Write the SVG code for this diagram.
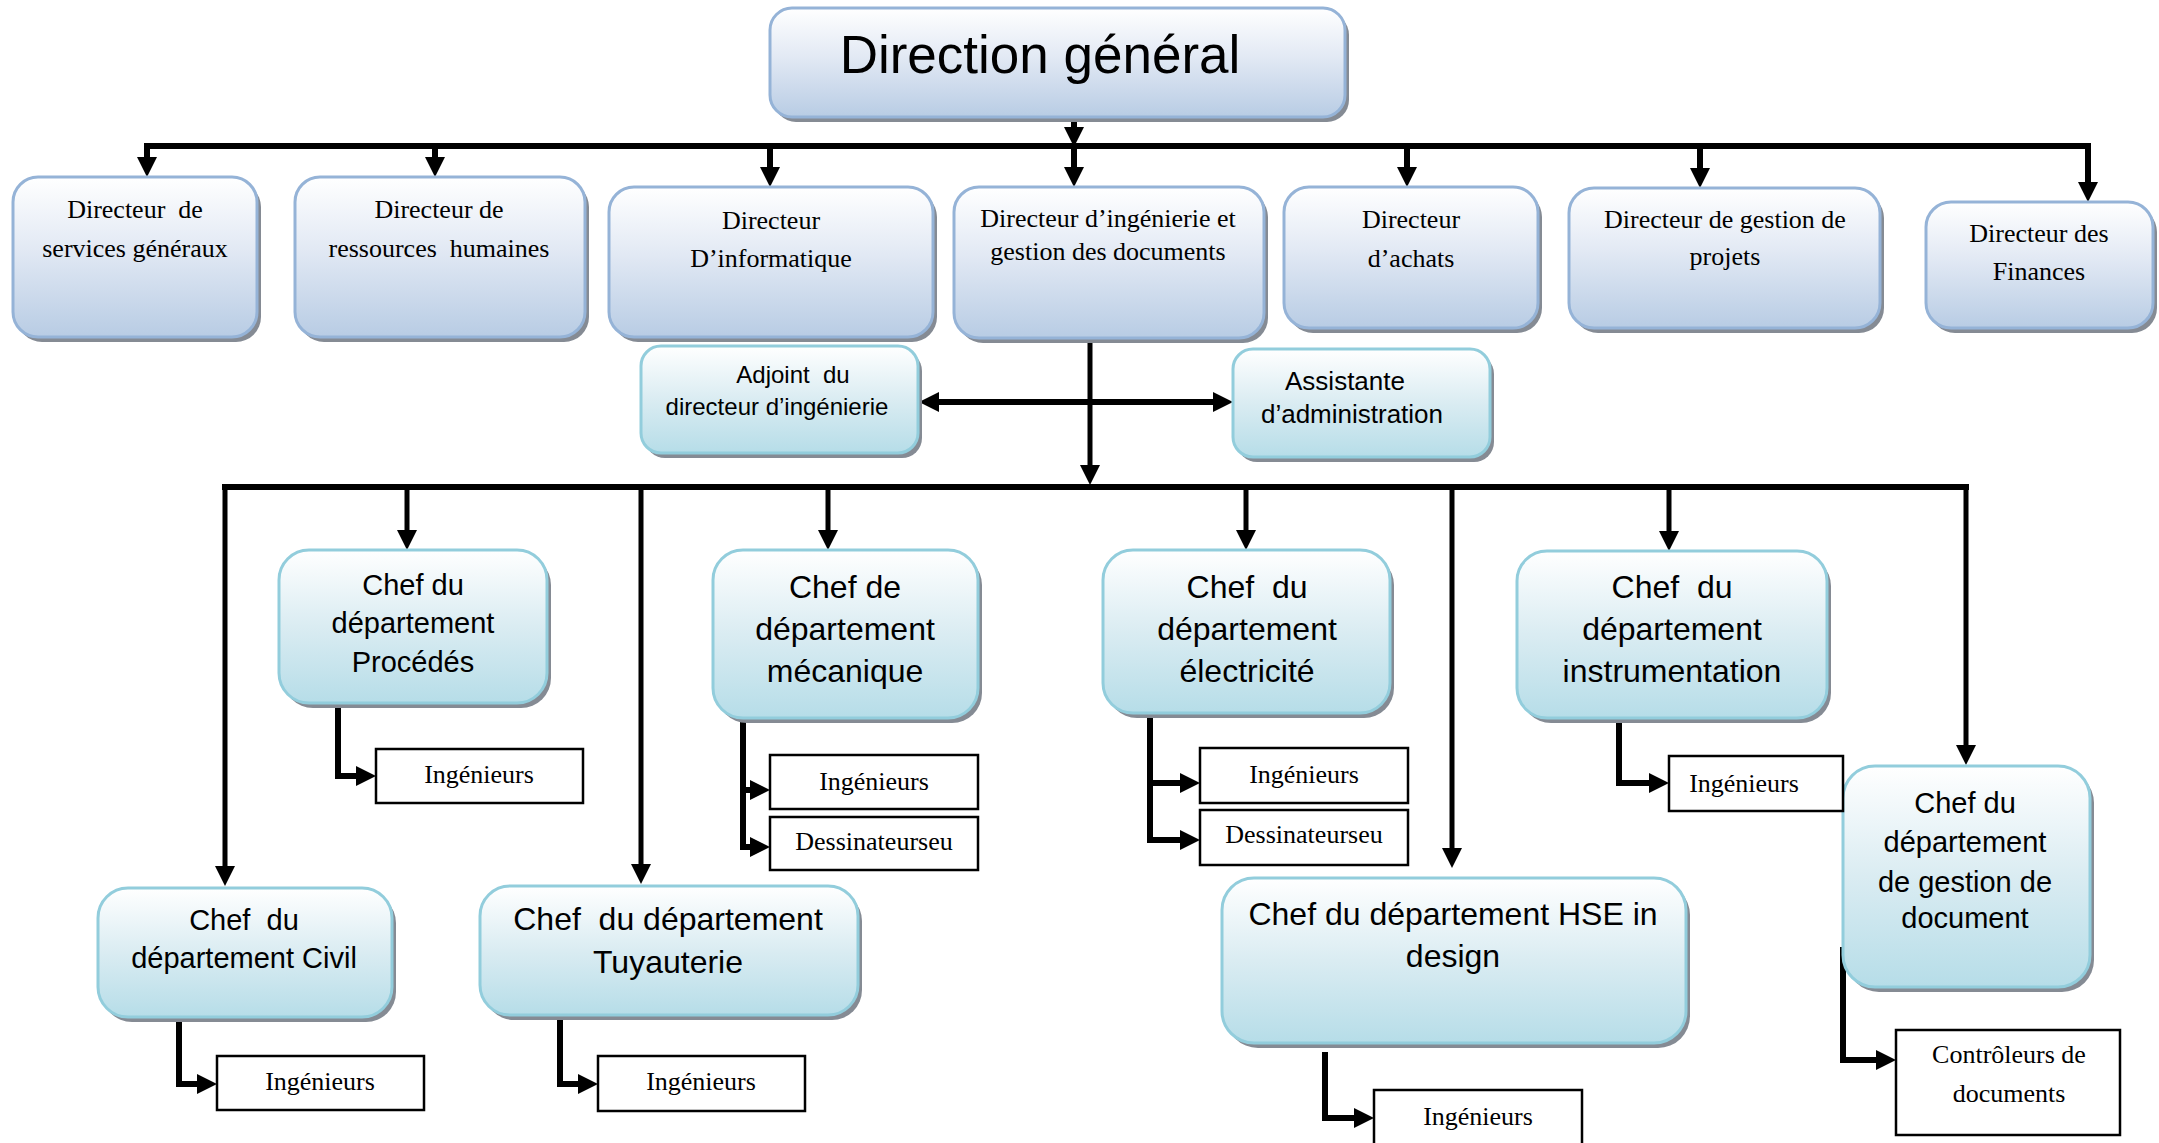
<svg xmlns="http://www.w3.org/2000/svg" width="2159" height="1143" viewBox="0 0 2159 1143">
<defs>
<linearGradient id="gBlue" x1="0" y1="0" x2="0" y2="1">
<stop offset="0" stop-color="#ffffff"/>
<stop offset="0.45" stop-color="#e2e9f4"/>
<stop offset="1" stop-color="#b8cce4"/>
</linearGradient>
<linearGradient id="gCyan" x1="0" y1="0" x2="0" y2="1">
<stop offset="0" stop-color="#ffffff"/>
<stop offset="0.5" stop-color="#daecf2"/>
<stop offset="1" stop-color="#b6dde8"/>
</linearGradient>
<marker id="arr" viewBox="0 -10 20 20" refX="0" refY="0" markerWidth="20" markerHeight="20" markerUnits="userSpaceOnUse" orient="auto-start-reverse">
<path d="M0,-10 L20,0 L0,10 z" fill="#000"/>
</marker>
</defs>
<style>
.sh{fill:#858b94}
.bb{fill:url(#gBlue);stroke:#95b3d7;stroke-width:3}
.cb{fill:url(#gCyan);stroke:#92cddc;stroke-width:3}
.wb{fill:#fff;stroke:#000;stroke-width:2.5}
.ser{font-family:"Liberation Serif","Times New Roman",serif;font-size:26px;fill:#000;text-anchor:middle;white-space:pre}
.san{font-family:"Liberation Sans",Arial,sans-serif;fill:#000;text-anchor:middle;white-space:pre}
.ln{fill:none;stroke:#000;stroke-width:6}
.ar{fill:none;stroke:#000;stroke-width:6;marker-end:url(#arr)}
.ar2{fill:none;stroke:#000;stroke-width:5;marker-end:url(#arr)}
</style>
<rect width="2159" height="1143" fill="#fff"/>

<g id="connectors">
<line class="ar" x1="1074" y1="117" x2="1074" y2="127"/>
<line class="ln" x1="144" y1="146" x2="2091" y2="146"/>
<line class="ar" x1="147" y1="146" x2="147" y2="157"/>
<line class="ar" x1="435" y1="146" x2="435" y2="157"/>
<line class="ar" x1="770" y1="146" x2="770" y2="167"/>
<line class="ar" x1="1074" y1="146" x2="1074" y2="167"/>
<line class="ar" x1="1407" y1="146" x2="1407" y2="167"/>
<line class="ar" x1="1700" y1="146" x2="1700" y2="168"/>
<line class="ar" x1="2088" y1="143" x2="2088" y2="182"/>
<line class="ar2" x1="1090" y1="338" x2="1090" y2="465"/>
<line class="ar" x1="939" y1="402" x2="1213" y2="402" style="marker-start:url(#arr)"/>
<line class="ln" x1="222" y1="487" x2="1969" y2="487"/>
<line class="ar2" x1="225" y1="484" x2="225" y2="866"/>
<line class="ar2" x1="407" y1="487" x2="407" y2="530"/>
<line class="ar2" x1="641" y1="487" x2="641" y2="864"/>
<line class="ar2" x1="828" y1="487" x2="828" y2="530"/>
<line class="ar2" x1="1246" y1="487" x2="1246" y2="530"/>
<line class="ar2" x1="1452" y1="487" x2="1452" y2="848"/>
<line class="ar2" x1="1669" y1="487" x2="1669" y2="531"/>
<line class="ar2" x1="1966" y1="484" x2="1966" y2="745"/>
<path class="ar" d="M338,703 V776 H356"/>
<path class="ln" d="M743,718 V850"/>
<path class="ar" d="M743,790 H750"/>
<path class="ar" d="M743,847 H750"/>
<path class="ln" d="M1150,713 V843"/>
<path class="ar" d="M1150,783 H1180"/>
<path class="ar" d="M1150,840 H1180"/>
<path class="ar" d="M1619,718 V783 H1649"/>
<path class="ar" d="M1843,947 V1060 H1876"/>
<path class="ar" d="M1325,1052 V1118 H1354"/>
<path class="ar" d="M179,1018 V1084 H197"/>
<path class="ar" d="M560,1018 V1084 H578"/>
</g>

<g id="n-direction">
<rect class="sh" x="774" y="13" width="575" height="109" rx="22"/>
<rect class="bb" x="770" y="8" width="575" height="109" rx="22"/>
<text class="san" x="1040" y="73" font-size="53">Direction général</text>
</g>

<g id="n-services">
<rect class="sh" x="17" y="182" width="244" height="160" rx="25"/>
<rect class="bb" x="13" y="177" width="244" height="160" rx="25"/>
<text class="ser" x="135" y="218">Directeur  de</text>
<text class="ser" x="135" y="257">services généraux</text>
</g>
<g id="n-rh">
<rect class="sh" x="299" y="182" width="290" height="160" rx="25"/>
<rect class="bb" x="295" y="177" width="290" height="160" rx="25"/>
<text class="ser" x="439" y="218">Directeur de</text>
<text class="ser" x="439" y="257">ressources  humaines</text>
</g>
<g id="n-info">
<rect class="sh" x="613" y="192" width="324" height="150" rx="25"/>
<rect class="bb" x="609" y="187" width="324" height="150" rx="25"/>
<text class="ser" x="771" y="229">Directeur</text>
<text class="ser" x="771" y="267">D’informatique</text>
</g>
<g id="n-inge">
<rect class="sh" x="958" y="192" width="310" height="151" rx="25"/>
<rect class="bb" x="954" y="187" width="310" height="151" rx="25"/>
<text class="ser" x="1108" y="227" font-size="23">Directeur d’ingénierie et</text>
<text class="ser" x="1108" y="260" font-size="23">gestion des documents</text>
</g>
<g id="n-achats">
<rect class="sh" x="1288" y="192" width="254" height="141" rx="25"/>
<rect class="bb" x="1284" y="187" width="254" height="141" rx="25"/>
<text class="ser" x="1411" y="228">Directeur</text>
<text class="ser" x="1411" y="267">d’achats</text>
</g>
<g id="n-projets">
<rect class="sh" x="1573" y="193" width="311" height="140" rx="25"/>
<rect class="bb" x="1569" y="188" width="311" height="140" rx="25"/>
<text class="ser" x="1725" y="228">Directeur de gestion de</text>
<text class="ser" x="1725" y="265">projets</text>
</g>
<g id="n-finances">
<rect class="sh" x="1930" y="207" width="227" height="126" rx="25"/>
<rect class="bb" x="1926" y="202" width="227" height="126" rx="25"/>
<text class="ser" x="2039" y="242">Directeur des</text>
<text class="ser" x="2039" y="280">Finances</text>
</g>

<g id="n-adjoint">
<rect class="sh" x="645" y="351" width="277" height="107" rx="20"/>
<rect class="cb" x="641" y="346" width="277" height="107" rx="20"/>
<text class="san" x="793" y="383" font-size="24">Adjoint  du</text>
<text class="san" x="777" y="415" font-size="24">directeur d’ingénierie</text>
</g>
<g id="n-assistante">
<rect class="sh" x="1237" y="354" width="257" height="108" rx="20"/>
<rect class="cb" x="1233" y="349" width="257" height="108" rx="20"/>
<text class="san" x="1345" y="390" font-size="26">Assistante</text>
<text class="san" x="1352" y="423" font-size="26">d’administration</text>
</g>

<g id="n-procedes">
<rect class="sh" x="283" y="555" width="268" height="153" rx="30"/>
<rect class="cb" x="279" y="550" width="268" height="153" rx="30"/>
<text class="san" x="413" y="595" font-size="29">Chef du</text>
<text class="san" x="413" y="633" font-size="29">département</text>
<text class="san" x="413" y="672" font-size="29">Procédés</text>
</g>
<g id="n-mecanique">
<rect class="sh" x="717" y="555" width="265" height="168" rx="30"/>
<rect class="cb" x="713" y="550" width="265" height="168" rx="30"/>
<text class="san" x="845" y="598" font-size="32">Chef de</text>
<text class="san" x="845" y="640" font-size="32">département</text>
<text class="san" x="845" y="682" font-size="32">mécanique</text>
</g>
<g id="n-electricite">
<rect class="sh" x="1107" y="555" width="287" height="163" rx="30"/>
<rect class="cb" x="1103" y="550" width="287" height="163" rx="30"/>
<text class="san" x="1247" y="598" font-size="32">Chef  du</text>
<text class="san" x="1247" y="640" font-size="32">département</text>
<text class="san" x="1247" y="682" font-size="32">électricité</text>
</g>
<g id="n-instrumentation">
<rect class="sh" x="1521" y="556" width="310" height="167" rx="30"/>
<rect class="cb" x="1517" y="551" width="310" height="167" rx="30"/>
<text class="san" x="1672" y="598" font-size="32">Chef  du</text>
<text class="san" x="1672" y="640" font-size="32">département</text>
<text class="san" x="1672" y="682" font-size="32">instrumentation</text>
</g>
<g id="n-civil">
<rect class="sh" x="102" y="893" width="294" height="129" rx="30"/>
<rect class="cb" x="98" y="888" width="294" height="129" rx="30"/>
<text class="san" x="244" y="930" font-size="29">Chef  du</text>
<text class="san" x="244" y="968" font-size="29">département Civil</text>
</g>
<g id="n-tuyauterie">
<rect class="sh" x="484" y="891" width="378" height="129" rx="30"/>
<rect class="cb" x="480" y="886" width="378" height="129" rx="30"/>
<text class="san" x="668" y="930" font-size="32">Chef  du département</text>
<text class="san" x="668" y="973" font-size="32">Tuyauterie</text>
</g>
<g id="n-hse">
<rect class="sh" x="1226" y="883" width="464" height="165" rx="32"/>
<rect class="cb" x="1222" y="878" width="464" height="165" rx="32"/>
<text class="san" x="1453" y="925" font-size="32">Chef du département HSE in</text>
<text class="san" x="1453" y="967" font-size="32">design</text>
</g>
<g id="n-gestion">
<rect class="sh" x="1847" y="771" width="247" height="221" rx="32"/>
<rect class="cb" x="1843" y="766" width="247" height="221" rx="32"/>
<text class="san" x="1965" y="813" font-size="29">Chef du</text>
<text class="san" x="1965" y="852" font-size="29">département</text>
<text class="san" x="1965" y="892" font-size="29">de gestion de</text>
<text class="san" x="1965" y="928" font-size="29">document</text>
</g>

<g id="n-ing-procedes">
<rect class="wb" x="376" y="749" width="207" height="54"/>
<text class="ser" x="479" y="783">Ingénieurs</text>
</g>
<g id="n-ing-meca">
<rect class="wb" x="770" y="755" width="208" height="54"/>
<text class="ser" x="874" y="790">Ingénieurs</text>
</g>
<g id="n-des-meca">
<rect class="wb" x="770" y="817" width="208" height="53"/>
<text class="ser" x="874" y="850">Dessinateurseu</text>
</g>
<g id="n-ing-elec">
<rect class="wb" x="1200" y="748" width="208" height="55"/>
<text class="ser" x="1304" y="783">Ingénieurs</text>
</g>
<g id="n-des-elec">
<rect class="wb" x="1200" y="810" width="208" height="55"/>
<text class="ser" x="1304" y="843">Dessinateurseu</text>
</g>
<g id="n-ing-instr">
<rect class="wb" x="1669" y="756" width="174" height="55"/>
<text class="ser" x="1744" y="792">Ingénieurs</text>
</g>
<g id="n-ing-civil">
<rect class="wb" x="217" y="1056" width="207" height="54"/>
<text class="ser" x="320" y="1090">Ingénieurs</text>
</g>
<g id="n-ing-tuy">
<rect class="wb" x="598" y="1056" width="207" height="55"/>
<text class="ser" x="701" y="1090">Ingénieurs</text>
</g>
<g id="n-ing-hse">
<rect class="wb" x="1374" y="1090" width="208" height="60"/>
<text class="ser" x="1478" y="1125">Ingénieurs</text>
</g>
<g id="n-controleurs">
<rect class="wb" x="1896" y="1030" width="224" height="105"/>
<text class="ser" x="2009" y="1063">Contrôleurs de</text>
<text class="ser" x="2009" y="1102">documents</text>
</g>
</svg>
